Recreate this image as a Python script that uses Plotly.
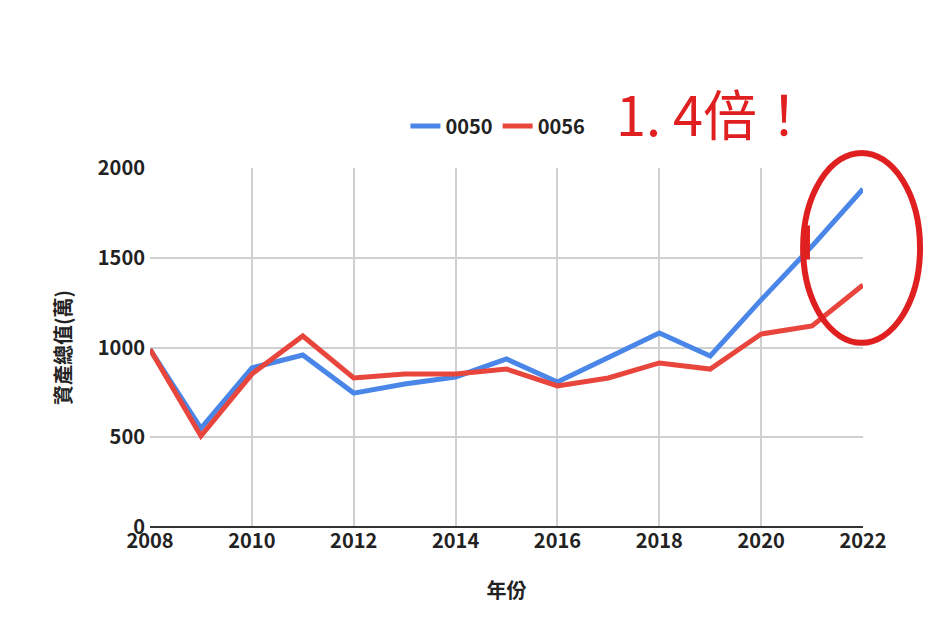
import plotly.graph_objects as go

years = list(range(2008, 2023))
s0050 = [990, 550, 886, 958, 746, 797, 836, 936, 808, 947, 1081, 953, 1265, 1565, 1883]
s0056 = [990, 507, 852, 1064, 830, 852, 852, 880, 786, 830, 914, 880, 1075, 1120, 1348]
series_names = ["0050", "0056"]

fig = go.Figure()
fig.add_trace(go.Scatter(x=years, y=s0050, mode="lines", name=series_names[0],
                         line=dict(color="#4a86e8", width=5)))
fig.add_trace(go.Scatter(x=years, y=s0056, mode="lines", name=series_names[1],
                         line=dict(color="#e8453c", width=5)))

font = "Noto Sans CJK TC"
fig.update_layout(
    width=941, height=638, plot_bgcolor="white", paper_bgcolor="white",
    margin=dict(l=142, r=86, t=160, b=119, autoexpand=False),
    font=dict(family=font, size=19, color="#222"),
    legend=dict(orientation="h", x=0.488, y=1.117, xanchor="center", yanchor="middle",
                font=dict(size=20, family=font, weight="bold")),
    xaxis=dict(range=[2008, 2022], tickvals=list(range(2008, 2023, 2)),
               showgrid=True, gridcolor="#d0d0d0", gridwidth=1.5,
               title=dict(text="<b>年份</b>", font=dict(size=20), standoff=30),
               tickfont=dict(size=20, weight="bold"), zeroline=False),
    yaxis=dict(range=[0, 2000], tickvals=[0, 500, 1000, 1500, 2000],
               showgrid=True, gridcolor="#d0d0d0", gridwidth=1.5,
               title=dict(text="<b>資產總值(萬)</b>", font=dict(size=20), standoff=20),
               tickfont=dict(size=20, weight="bold"), zeroline=False,
               ticklabelstandoff=4, showline=False),
    showlegend=True,
)
fig.add_shape(type="line", xref="paper", yref="paper", x0=0, x1=1, y0=0, y1=0,
              line=dict(color="#333", width=2))
fig.add_shape(type="circle", xref="paper", yref="paper", x0=0.916, x1=1.08,
              y0=0.513, y1=1.042, line=dict(color="#e02020", width=6))
fig.add_shape(type="line", xref="paper", yref="paper", x0=0.92, x1=0.92,
              y0=0.745, y1=0.84, line=dict(color="#e02020", width=8))
fig.add_annotation(text="1. 4倍！", xref="paper", yref="paper", x=0.93, y=1.27,
                   showarrow=False, font=dict(size=54, color="#e02020", family=font))
fig.write_html("out.html")
